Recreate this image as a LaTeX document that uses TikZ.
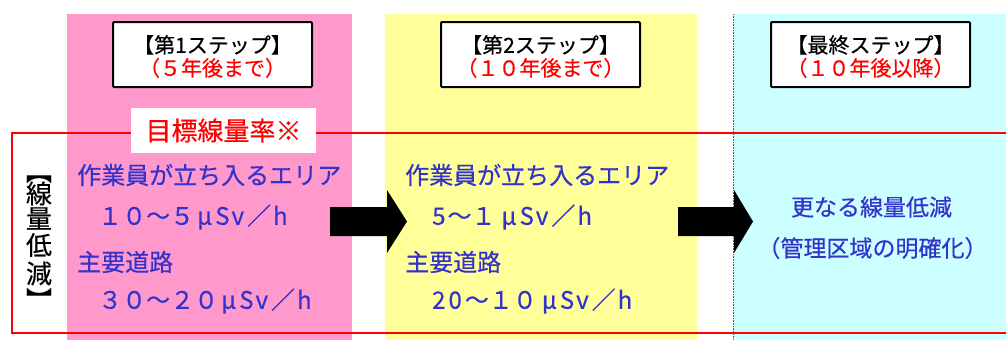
\documentclass[tikz,border=0pt]{standalone}
\usepackage{fontspec}
\setmainfont{Noto Sans CJK JP}
\newfontfamily\jpbold{Noto Sans CJK JP}[FakeBold=0.4]
\definecolor{pinkbg}{HTML}{FF99CC}
\definecolor{yellowbg}{HTML}{FFFF99}
\definecolor{cyanbg}{HTML}{CCFFFF}
\definecolor{txtblue}{HTML}{3333CC}
\definecolor{txtred}{HTML}{FF0000}
\newcommand\usvh{\kern3pt μ\kern3pt S\kern2pt v\kern3pt／\kern2pt h}
\tikzset{
  stepbox/.style={draw=black, line width=2pt, fill=white, rounded corners=1pt, minimum width=199pt, minimum height=65pt, inner sep=0pt},
  steptext/.style={align=center, inner sep=0pt, font=\jpbold\fontsize{21}{23}\selectfont},
  bluetext/.style={text=txtblue, anchor=west, inner sep=0pt, font=\jpbold\fontsize{24}{28}\selectfont},
  bluec/.style={text=txtblue, inner sep=0pt, font=\jpbold\fontsize{23}{28}\selectfont},
  vchar/.style={inner sep=0pt, font=\jpbold\fontsize{26}{26}\selectfont},
  blockarrow/.style={fill=black, draw=none},
}
\begin{document}
\begin{tikzpicture}[x=1pt,y=-1pt]
\useasboundingbox (0,0) rectangle (1006,340);
% columns
\fill[pinkbg] (67,14) rectangle (352,340);
\fill[yellowbg] (385,14) rectangle (697,340);
\fill[cyanbg] (733,14) rectangle (1006,340);
\draw[gray!70!black, line width=0.6pt, densely dotted] (733,14) -- (733,340);
% red frame
\draw[txtred, line width=2pt] (12,133) rectangle (1012,333);
% label
\node[fill=white, minimum width=185pt, minimum height=45pt, inner sep=0pt, text=txtred, font=\jpbold\fontsize{26}{30}\selectfont] (target) at (223.5,130.5) {目標線量率※};
% step boxes
\node[stepbox] (s1) at (212.5,54.5) {};
\node[stepbox] (s2) at (540.5,54.5) {};
\node[stepbox] (s3) at (870.5,54.5) {};
\node[steptext] (s1t) at (212.5,56.5) {【第1ステップ】\\\textcolor{txtred}{（５年後まで）}};
\node[steptext] (s2t) at (540.5,56.5) {【第2ステップ】\\\textcolor{txtred}{（１０年後まで）}};
\node[steptext] (s3t) at (870.5,56.5) {【最終ステップ】\\\textcolor{txtred}{（１０年後以降）}};
% vertical label
\node[vchar, rotate=-90] (v1) at (39,171) {【};
\node[vchar] (v2) at (39,193.5) {線};
\node[vchar] (v3) at (39,218.5) {量};
\node[vchar] (v4) at (39,245) {低};
\node[vchar] (v5) at (39,273.5) {減};
\node[vchar, rotate=-90] (v6) at (39,300) {】};
% column 1 texts
\node[bluetext] (p1) at (77,175) {作業員が立ち入るエリア};
\node[bluetext] (p2) at (98,217) {１０～５\usvh};
\node[bluetext] (p3) at (77,262) {主要道路};
\node[bluetext] (p4) at (98,301) {３０～２０\usvh};
% column 2 texts
\node[bluetext] (q1) at (405,175) {作業員が立ち入るエリア};
\node[bluetext] (q2) at (432,217) {5\kern2pt～１\kern3pt\usvh};
\node[bluetext] (q3) at (405,262) {主要道路};
\node[bluetext] (q4) at (432,301) {2\kern3pt 0\kern3pt～１０\kern2pt\usvh};
% column 3 texts
\node[bluec] (r1) at (871.5,207) {更なる線量低減};
\node[bluec] (r2) at (872.5,248) {（管理区域の明確化）};
% block arrows
\coordinate (a1s) at (330,221.5);
\coordinate (a2s) at (678,221.5);
\fill[blockarrow] (a1s) ++(0,-14.5) -- ++(57,0) -- ++(0,-17) -- ++(20,31.5) -- ++(-20,31.5) -- ++(0,-17) -- ++(-57,0) -- cycle;
\fill[blockarrow] (a2s) ++(0,-14.5) -- ++(56,0) -- ++(0,-17) -- ++(19,31.5) -- ++(-19,31.5) -- ++(0,-17) -- ++(-56,0) -- cycle;
\end{tikzpicture}
\end{document}
